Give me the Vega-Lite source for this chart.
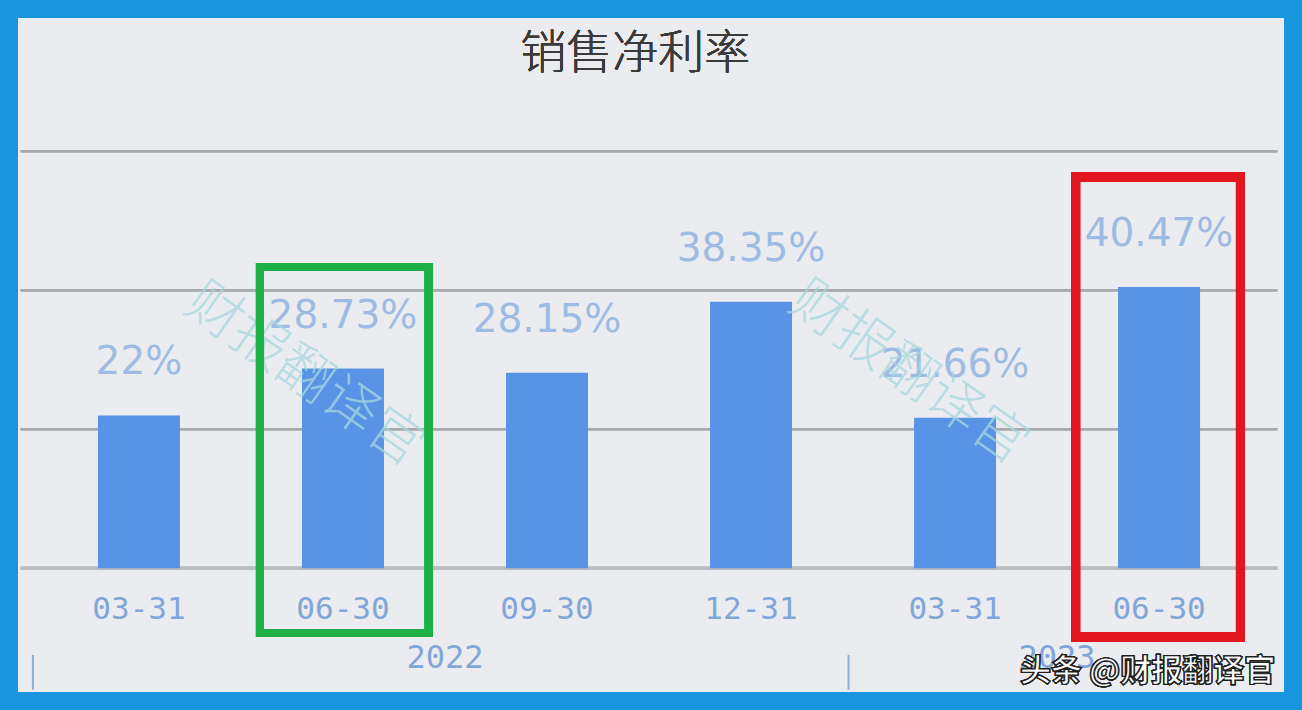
{
  "$schema": "https://vega.github.io/schema/vega-lite/v6.json",
  "width": 1302,
  "height": 710,
  "padding": 0,
  "autosize": {"type": "none"},
  "background": "#1796de",
  "config": {
    "view": {"fill": "#ebecef", "stroke": "#1796de", "strokeWidth": 36}
  },
  "data": {
    "values": [
      {"i": 0, "date": "03-31", "year": "2022", "rate": 0.22},
      {"i": 1, "date": "06-30", "year": "2022", "rate": 0.2873},
      {"i": 2, "date": "09-30", "year": "2022", "rate": 0.2815},
      {"i": 3, "date": "12-31", "year": "2022", "rate": 0.3835},
      {"i": 4, "date": "03-31", "year": "2023", "rate": 0.2166},
      {"i": 5, "date": "06-30", "year": "2023", "rate": 0.4047}
    ]
  },
  "encoding": {
    "x": {"field": "i", "type": "quantitative", "scale": {"domain": [-0.6566, 5.6761], "nice": false, "zero": false}, "axis": null}
  },
  "layer": [
    {
      "mark": {"type": "rule", "color": "#a9aaac", "strokeWidth": 2},
      "encoding": {
        "x": {"datum": -0.579, "type": "quantitative"},
        "x2": {"datum": 5.579},
        "y": {"datum": 0.6, "type": "quantitative", "scale": {"domain": [-0.2039, 0.8177], "nice": false, "zero": false}, "axis": null}
      }
    },
    {
      "mark": {"type": "rule", "color": "#a9aaac", "strokeWidth": 2},
      "encoding": {
        "x": {"datum": -0.579, "type": "quantitative"},
        "x2": {"datum": 5.579},
        "y": {"datum": 0.4, "type": "quantitative"}
      }
    },
    {
      "mark": {"type": "rule", "color": "#a9aaac", "strokeWidth": 2},
      "encoding": {
        "x": {"datum": -0.579, "type": "quantitative"},
        "x2": {"datum": 5.579},
        "y": {"datum": 0.2, "type": "quantitative"}
      }
    },
    {
      "mark": {"type": "rule", "color": "#bcbdbf", "strokeWidth": 3},
      "encoding": {
        "x": {"datum": -0.579, "type": "quantitative"},
        "x2": {"datum": 5.579},
        "y": {"datum": 0, "type": "quantitative"}
      }
    },
    {
      "mark": {"type": "bar", "color": "#5893e6", "width": 82},
      "encoding": {
        "y": {"field": "rate", "type": "quantitative"},
        "y2": {"datum": 0}
      }
    },
    {
      "mark": {"type": "text", "font": "DejaVu Sans", "fontSize": 39, "color": "#9dbbe3", "baseline": "alphabetic", "dy": -41, "align": "center"},
      "encoding": {
        "y": {"field": "rate", "type": "quantitative"},
        "text": {"field": "rate", "type": "quantitative", "format": ".2~%"}
      }
    },
    {
      "mark": {"type": "text", "font": "DejaVu Sans Mono", "fontSize": 31, "color": "#82a6da", "baseline": "alphabetic", "align": "center"},
      "encoding": {
        "y": {"datum": -0.0729, "type": "quantitative"},
        "text": {"field": "date"}
      }
    },
    {
      "mark": {"type": "text", "font": "DejaVu Sans Mono", "fontSize": 32, "color": "#82a6da", "baseline": "alphabetic", "align": "center"},
      "encoding": {
        "x": {"aggregate": "mean", "field": "i", "type": "quantitative"},
        "y": {"datum": -0.1435, "type": "quantitative"},
        "text": {"field": "year"}
      }
    },
    {
      "mark": {"type": "rule", "color": "#8aaedd", "strokeWidth": 2},
      "data": {"values": [{"s": -0.52}, {"s": 3.478}]},
      "encoding": {
        "x": {"field": "s", "type": "quantitative"},
        "y": {"datum": -0.1248, "type": "quantitative"},
        "y2": {"datum": -0.1749}
      }
    },
    {
      "mark": {"type": "text", "font": "Noto Sans CJK SC", "fontSize": 55, "fontWeight": 300, "color": "#a6d8e0", "opacity": 0.75, "angle": 35, "align": "center", "baseline": "middle"},
      "data": {"values": [{"w": 0.812, "h": 0.2782}, {"w": 3.774, "h": 0.281}]},
      "encoding": {
        "x": {"field": "w", "type": "quantitative"},
        "y": {"field": "h", "type": "quantitative"},
        "text": {"value": "财报翻译官"}
      }
    },
    {
      "mark": {"type": "rect", "filled": false, "stroke": "#1db046", "strokeWidth": 8},
      "encoding": {
        "x": {"datum": 0.593, "type": "quantitative"},
        "x2": {"datum": 1.42},
        "y": {"datum": 0.4335, "type": "quantitative"},
        "y2": {"datum": -0.0931}
      }
    },
    {
      "mark": {"type": "rect", "filled": false, "stroke": "#e2161f", "strokeWidth": 9},
      "encoding": {
        "x": {"datum": 4.591, "type": "quantitative"},
        "x2": {"datum": 5.399},
        "y": {"datum": 0.563, "type": "quantitative"},
        "y2": {"datum": -0.0988}
      }
    },
    {
      "mark": {"type": "text", "font": "Noto Sans CJK SC", "fontSize": 46, "fontWeight": 300, "color": "#3a3a3a", "align": "center", "baseline": "middle"},
      "encoding": {
        "x": {"datum": 2.432, "type": "quantitative"},
        "y": {"datum": 0.74, "type": "quantitative"},
        "text": {"value": "销售净利率"}
      }
    },
    {
      "mark": {"type": "text", "font": "Noto Sans CJK SC", "fontSize": 31, "fontWeight": "bold", "fill": "#ffffff", "stroke": "#1e1e1e", "strokeWidth": 1.2, "align": "right", "baseline": "middle"},
      "encoding": {
        "x": {"datum": 5.569, "type": "quantitative"},
        "y": {"datum": -0.1492, "type": "quantitative"},
        "text": {"value": "头条 @财报翻译官"}
      }
    }
  ]
}
